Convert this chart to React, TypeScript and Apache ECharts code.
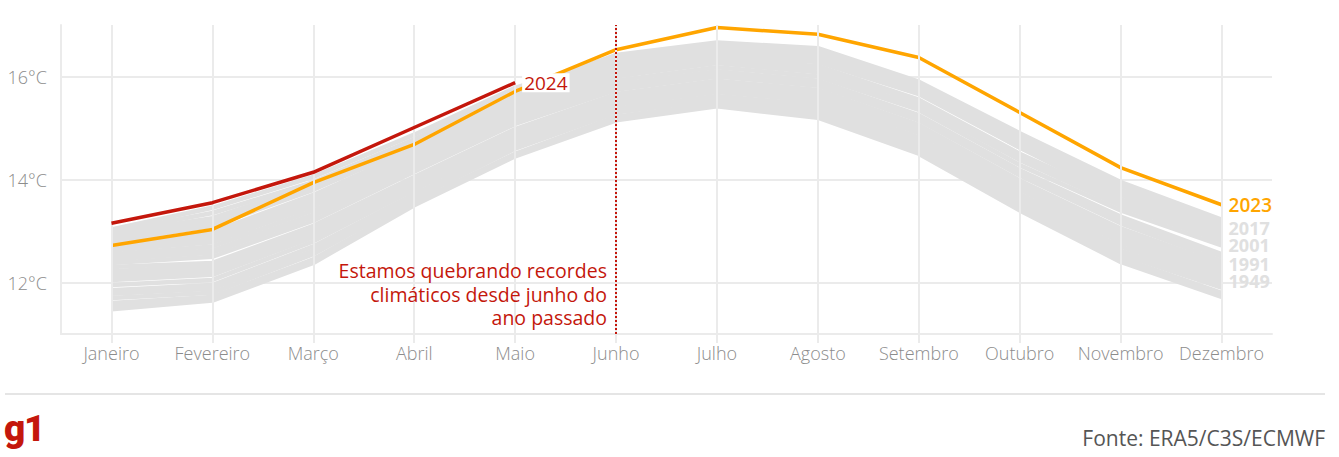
import React, { useEffect, useRef } from 'react';
import * as echarts from 'echarts';

const months = ['Janeiro', 'Fevereiro', 'Março', 'Abril', 'Maio', 'Junho', 'Julho', 'Agosto', 'Setembro', 'Outubro', 'Novembro', 'Dezembro'];

const values2024 = [13.15, 13.55, 14.14, 15.01, 15.88];
const values2023 = [12.72, 13.03, 13.94, 14.68, 15.71, 16.52, 16.95, 16.82, 16.37, 15.3, 14.23, 13.51];

const grayYears = ['1956', '1943', '1950', '1965', '1970', '1949', '1962', '1975', '1980', '1985', '1988', '1991', '1995', '2003', '1998', '2001', '2005', '2007', '2010', '2012', '2014', '2015', '2016', '2018', '2017', '2019', '2020', '2022'];
const grayValues = [
  [11.48, 11.65, 12.38, 13.5, 14.45, 15.15, 15.42, 15.2, 14.5, 13.4, 12.4, 11.72],
  [11.55, 11.7, 12.42, 13.52, 14.48, 15.18, 15.45, 15.24, 14.54, 13.44, 12.44, 11.76],
  [11.6, 11.72, 12.45, 13.55, 14.5, 15.22, 15.48, 15.28, 14.58, 13.48, 12.48, 11.8],
  [11.7, 11.8, 12.55, 13.62, 14.6, 15.3, 15.55, 15.35, 14.65, 13.55, 12.55, 11.9],
  [11.78, 11.88, 12.62, 13.66, 14.64, 15.34, 15.58, 15.4, 14.7, 13.6, 12.62, 11.96],
  [11.85, 11.95, 12.7, 13.72, 14.68, 15.38, 15.62, 15.45, 14.75, 13.65, 12.7, 12.02],
  [11.95, 12.05, 12.8, 13.8, 14.75, 15.45, 15.7, 15.52, 14.82, 13.72, 12.78, 12.05],
  [12.05, 12.15, 12.88, 13.88, 14.82, 15.52, 15.76, 15.58, 14.9, 13.8, 12.85, 12.12],
  [12.1, 12.2, 12.93, 13.92, 14.86, 15.55, 15.8, 15.62, 14.94, 13.84, 12.9, 12.17],
  [12.15, 12.25, 12.98, 13.95, 14.9, 15.58, 15.84, 15.66, 14.98, 13.88, 12.95, 12.22],
  [12.22, 12.32, 13.04, 14.0, 14.94, 15.62, 15.88, 15.7, 15.02, 13.93, 13.0, 12.28],
  [12.3, 12.38, 13.1, 14.05, 14.98, 15.66, 15.92, 15.74, 15.06, 13.98, 13.05, 12.35],
  [12.38, 12.5, 13.2, 14.15, 15.08, 15.74, 16.0, 15.82, 15.15, 14.08, 13.15, 12.42],
  [12.45, 12.58, 13.28, 14.22, 15.14, 15.8, 16.05, 15.88, 15.2, 14.14, 13.22, 12.5],
  [12.5, 12.62, 13.32, 14.28, 15.18, 15.85, 16.1, 15.92, 15.25, 14.18, 13.28, 12.55],
  [12.55, 12.7, 13.4, 14.35, 15.25, 15.92, 16.18, 16.0, 15.35, 14.28, 13.4, 12.72],
  [12.62, 12.78, 13.48, 14.42, 15.32, 16.0, 16.26, 16.08, 15.42, 14.38, 13.48, 12.8],
  [12.66, 12.86, 13.55, 14.46, 15.38, 16.05, 16.32, 16.15, 15.5, 14.45, 13.55, 12.86],
  [12.7, 12.9, 13.6, 14.52, 15.42, 16.1, 16.36, 16.2, 15.55, 14.5, 13.6, 12.92],
  [12.75, 12.98, 13.7, 14.58, 15.5, 16.18, 16.42, 16.3, 15.7, 14.68, 13.76, 13.05],
  [12.62, 12.82, 13.55, 14.5, 15.45, 16.14, 16.4, 16.28, 15.66, 14.62, 13.7, 12.98],
  [12.7, 12.95, 13.65, 14.6, 15.55, 16.22, 16.45, 16.35, 15.78, 14.8, 13.88, 13.15],
  [13.03, 13.45, 14.05, 14.87, 15.78, 16.4, 16.55, 16.42, 15.72, 14.62, 13.62, 13.0],
  [12.9, 13.2, 13.88, 14.72, 15.65, 16.32, 16.58, 16.45, 15.85, 14.85, 13.9, 13.18],
  [12.95, 13.25, 13.9, 14.75, 15.7, 16.35, 16.62, 16.48, 15.82, 14.72, 13.78, 13.05],
  [12.85, 13.15, 13.85, 14.7, 15.68, 16.42, 16.66, 16.55, 15.9, 14.9, 13.95, 13.22],
  [12.98, 13.35, 13.95, 14.78, 15.72, 16.3, 16.5, 16.38, 15.7, 14.68, 13.72, 12.95],
  [12.8, 13.1, 13.8, 14.65, 15.62, 16.28, 16.52, 16.4, 15.75, 14.75, 13.8, 13.1],
];
const labeledGrayYears = ['2017', '2001', '1991', '1949'];

const annotationText = 'Estamos quebrando recordes\nclimáticos desde junho do\nano passado';
const annotationMonth = 'Junho';
const sourceText = 'Fonte: ERA5/C3S/ECMWF';

const RED = '#c4170c';
const ORANGE = '#ffa500';
const GRAY = '#e0e0e0';
const GRID = '#ebebeb';
const FONT = "'Open Sans', sans-serif";

export default function App() {
  const ref = useRef<HTMLDivElement>(null);
  useEffect(() => {
    document.body.style.margin = '0';
    const chart = echarts.init(ref.current!, null, { renderer: 'svg' });
    const graySeries = grayYears.map((yr, i) => ({
      name: yr,
      type: 'line',
      data: grayValues[i],
      symbol: 'none',
      z: 2,
      silent: true,
      lineStyle: { color: GRAY, width: 4.5 },
      endLabel: labeledGrayYears.includes(yr)
        ? { show: true, formatter: yr, color: GRAY, fontSize: 18, fontWeight: 700, fontFamily: FONT, distance: 7 }
        : { show: false },
    }));
    chart.setOption({
      animation: false,
      textStyle: { fontFamily: FONT },
      grid: { left: 61, right: 67, top: 25, bottom: 123 },
      xAxis: {
        type: 'category',
        data: months,
        boundaryGap: true,
        axisLine: { lineStyle: { color: GRID, width: 2 } },
        axisTick: { show: true, alignWithLabel: true, length: 9, lineStyle: { color: GRID, width: 2 } },
        axisLabel: { color: '#8c8c8c', fontSize: 18, fontWeight: 300, margin: 10, fontFamily: FONT, interval: 0 },
        splitLine: { show: false },
      },
      yAxis: {
        type: 'value',
        min: 11,
        max: 17,
        interval: 1,
        axisLine: { show: true, lineStyle: { color: GRID, width: 2 } },
        axisTick: { show: false },
        axisLabel: {
          color: '#8c8c8c',
          fontSize: 18,
          fontWeight: 300,
          margin: 14,
          fontFamily: FONT,
          formatter: (v: number) => (v % 2 === 0 ? v + '°C' : ''),
        },
        splitLine: { show: true, lineStyle: { color: ['rgba(0,0,0,0)', GRID], width: 2 } },
      },
      series: [
        {
          name: 'grid',
          type: 'line',
          data: [],
          z: 1,
          silent: true,
          markLine: {
            silent: true,
            symbol: 'none',
            label: { show: false },
            lineStyle: { color: GRID, width: 2, type: 'solid' },
            data: months.map((m) => ({ xAxis: m })),
          },
        },
        ...graySeries,
        {
          name: '2023',
          type: 'line',
          data: values2023,
          symbol: 'none',
          z: 4,
          lineStyle: { color: ORANGE, width: 3.5 },
          endLabel: { show: true, formatter: '2023', color: ORANGE, fontSize: 19, fontWeight: 600, fontFamily: FONT, distance: 7 },
        },
        {
          name: '2024',
          type: 'line',
          data: values2024,
          symbol: 'none',
          z: 5,
          lineStyle: { color: RED, width: 3.5 },
          endLabel: {
            show: true,
            formatter: '2024',
            color: RED,
            fontSize: 19,
            fontFamily: FONT,
            distance: 7,
            backgroundColor: '#fff',
            padding: [0, 2],
          },
        },
        {
          name: 'annotation',
          type: 'line',
          data: [],
          z: 6,
          silent: true,
          markLine: {
            silent: true,
            symbol: 'none',
            label: { show: false },
            lineStyle: { color: RED, width: 2, type: [2, 2] },
            data: [{ xAxis: annotationMonth }],
          },
        },
      ],
      graphic: [
        {
          type: 'text',
          x: 607,
          y: 259,
          z: 10,
          style: {
            text: annotationText,
            align: 'right',
            verticalAlign: 'top',
            fill: RED,
            fontSize: 19.5,
            fontFamily: FONT,
            lineHeight: 23.5,
          },
        },
        { type: 'line', shape: { x1: 5, y1: 394, x2: 1325, y2: 394 }, style: { stroke: '#dddddd', lineWidth: 1.5 } },
        {
          type: 'text',
          x: 4,
          y: 410,
          style: { text: 'g', fill: RED, fontSize: 37, fontWeight: 900, fontFamily: 'Roboto', verticalAlign: 'top' },
        },
        {
          type: 'text',
          x: 24,
          y: 410,
          style: { text: '1', fill: RED, fontSize: 37, fontWeight: 900, fontFamily: 'Roboto', verticalAlign: 'top' },
        },
        {
          type: 'text',
          x: 1325,
          y: 438,
          style: { text: sourceText, fill: '#555', fontSize: 21, fontFamily: FONT, align: 'right', verticalAlign: 'middle' },
        },
      ],
    });
    return () => chart.dispose();
  }, []);
  return <div ref={ref} style={{ width: 1339, height: 457 }} />;
}
